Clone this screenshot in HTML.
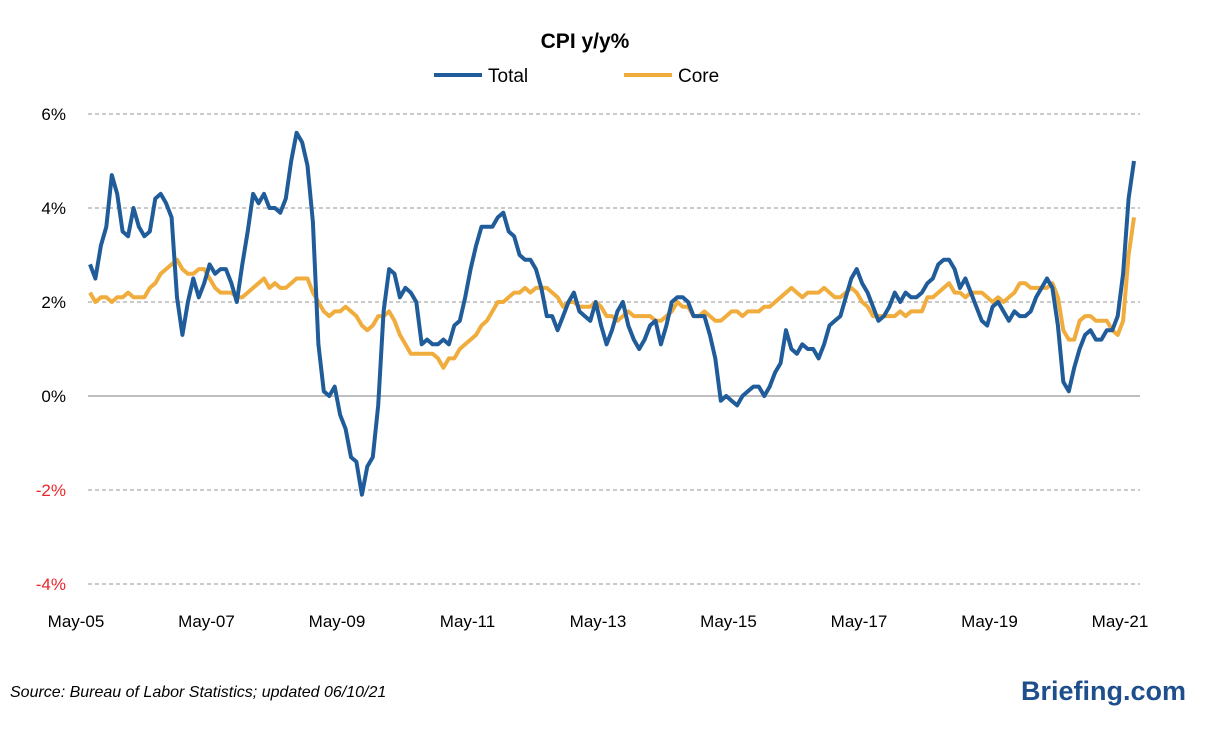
<!DOCTYPE html>
<html><head><meta charset="utf-8"><style>
body{margin:0;background:#fff;}
svg{display:block;font-family:"Liberation Sans",sans-serif;}
</style></head><body>
<svg id="chart" width="1208" height="744" viewBox="0 0 1208 744">
<text x="585" y="48" text-anchor="middle" font-size="21" font-weight="bold" fill="#000">CPI y/y%</text>
<g>
<line x1="434" y1="75" x2="482" y2="75" stroke="#1f5c99" stroke-width="4"/>
<text x="488" y="82" font-size="19" fill="#000">Total</text>
<line x1="624" y1="75" x2="672" y2="75" stroke="#f0ac3c" stroke-width="4"/>
<text x="678" y="82" font-size="19" fill="#000">Core</text>
</g>
<g id="grid"></g><g id="ylab"></g><g id="xlab"></g><g id="series"></g>
<text x="10" y="697" font-size="16" font-style="italic" fill="#000">Source: Bureau of Labor Statistics; updated 06/10/21</text>
<text x="1186" y="700" text-anchor="end" font-size="27" font-weight="bold" fill="#1f4e8c">Briefing.com</text>
</svg>
<script>
const yTicks=[6,4,2,0,-2,-4];
const xLabels=["May-05","May-07","May-09","May-11","May-13","May-15","May-17","May-19","May-21"];
const total=[2.8,2.5,3.2,3.6,4.7,4.3,3.5,3.4,
4.0,3.6,3.4,3.5,4.2,4.3,4.1,3.8,2.1,1.3,2.0,2.5,
2.1,2.4,2.8,2.6,2.7,2.7,2.4,2.0,2.8,3.5,4.3,4.1,
4.3,4.0,4.0,3.9,4.2,5.0,5.6,5.4,4.9,3.7,1.1,0.1,
0.0,0.2,-0.4,-0.7,-1.3,-1.4,-2.1,-1.5,-1.3,-0.2,1.8,2.7,
2.6,2.1,2.3,2.2,2.0,1.1,1.2,1.1,1.1,1.2,1.1,1.5,
1.6,2.1,2.7,3.2,3.6,3.6,3.6,3.8,3.9,3.5,3.4,3.0,
2.9,2.9,2.7,2.3,1.7,1.7,1.4,1.7,2.0,2.2,1.8,1.7,
1.6,2.0,1.5,1.1,1.4,1.8,2.0,1.5,1.2,1.0,1.2,1.5,
1.6,1.1,1.5,2.0,2.1,2.1,2.0,1.7,1.7,1.7,1.3,0.8,
-0.1,0.0,-0.1,-0.2,0.0,0.1,0.2,0.2,0.0,0.2,0.5,0.7,
1.4,1.0,0.9,1.1,1.0,1.0,0.8,1.1,1.5,1.6,1.7,2.1,
2.5,2.7,2.4,2.2,1.9,1.6,1.7,1.9,2.2,2.0,2.2,2.1,
2.1,2.2,2.4,2.5,2.8,2.9,2.9,2.7,2.3,2.5,2.2,1.9,
1.6,1.5,1.9,2.0,1.8,1.6,1.8,1.7,1.7,1.8,2.1,2.3,
2.5,2.3,1.5,0.3,0.1,0.6,1.0,1.3,1.4,1.2,1.2,1.4,
1.4,1.7,2.6,4.2,5.0];
const core=[2.2,2.0,2.1,2.1,2.0,2.1,2.1,2.2,
2.1,2.1,2.1,2.3,2.4,2.6,2.7,2.8,2.9,2.7,2.6,2.6,
2.7,2.7,2.5,2.3,2.2,2.2,2.2,2.1,2.1,2.2,2.3,2.4,
2.5,2.3,2.4,2.3,2.3,2.4,2.5,2.5,2.5,2.2,2.0,1.8,
1.7,1.8,1.8,1.9,1.8,1.7,1.5,1.4,1.5,1.7,1.7,1.8,
1.6,1.3,1.1,0.9,0.9,0.9,0.9,0.9,0.8,0.6,0.8,0.8,
1.0,1.1,1.2,1.3,1.5,1.6,1.8,2.0,2.0,2.1,2.2,2.2,
2.3,2.2,2.3,2.3,2.3,2.2,2.1,1.9,2.0,2.0,1.9,1.9,
1.9,2.0,1.9,1.7,1.7,1.6,1.7,1.8,1.7,1.7,1.7,1.7,
1.6,1.6,1.7,1.8,2.0,1.9,1.9,1.7,1.7,1.8,1.7,1.6,
1.6,1.7,1.8,1.8,1.7,1.8,1.8,1.8,1.9,1.9,2.0,2.1,
2.2,2.3,2.2,2.1,2.2,2.2,2.2,2.3,2.2,2.1,2.1,2.2,
2.3,2.2,2.0,1.9,1.7,1.7,1.7,1.7,1.7,1.8,1.7,1.8,
1.8,1.8,2.1,2.1,2.2,2.3,2.4,2.2,2.2,2.1,2.2,2.2,
2.2,2.1,2.0,2.1,2.0,2.1,2.2,2.4,2.4,2.3,2.3,2.3,
2.3,2.4,2.1,1.4,1.2,1.2,1.6,1.7,1.7,1.6,1.6,1.6,
1.4,1.3,1.6,3.0,3.8];
const NS="http://www.w3.org/2000/svg";
const n=total.length;
function xs(i){return 90+i*(1134-90)/(n-1);}
function ys(v){return 396-v*47;}
function mk(tag,attrs,parent){const e=document.createElementNS(NS,tag);for(const k in attrs)e.setAttribute(k,attrs[k]);parent.appendChild(e);return e;}
const grid=document.getElementById('grid'),ylab=document.getElementById('ylab'),xlab=document.getElementById('xlab'),ser=document.getElementById('series');
yTicks.forEach(t=>{
 const l=mk('line',{x1:88,x2:1140,y1:ys(t),y2:ys(t),stroke:t===0?'#999':'#aaa','stroke-width':1.3,'stroke-dasharray':t===0?'none':'4,3'},grid);
 
 
 const tx=mk('text',{x:66,y:ys(t)+6,'text-anchor':'end','font-size':17,fill:t<0?'#e8262b':'#000'},ylab);
 tx.textContent=t+'%';
 
 
});
xLabels.forEach((s,k)=>{
 const tx=mk('text',{x:xs(k*24)-14,y:627,'text-anchor':'middle','font-size':17,fill:'#000'},xlab);
 tx.textContent=s;
 
 
});
function line(data,color,name){
 const p=mk('polyline',{points:data.map((v,i)=>xs(i).toFixed(1)+','+ys(v).toFixed(1)).join(' '),fill:'none',stroke:color,'stroke-width':4,'stroke-linejoin':'round'},ser);
 
 
}
line(core,'#f0ac3c','core-line');
line(total,'#1f5c99','total-line');
</script>
</body></html>
